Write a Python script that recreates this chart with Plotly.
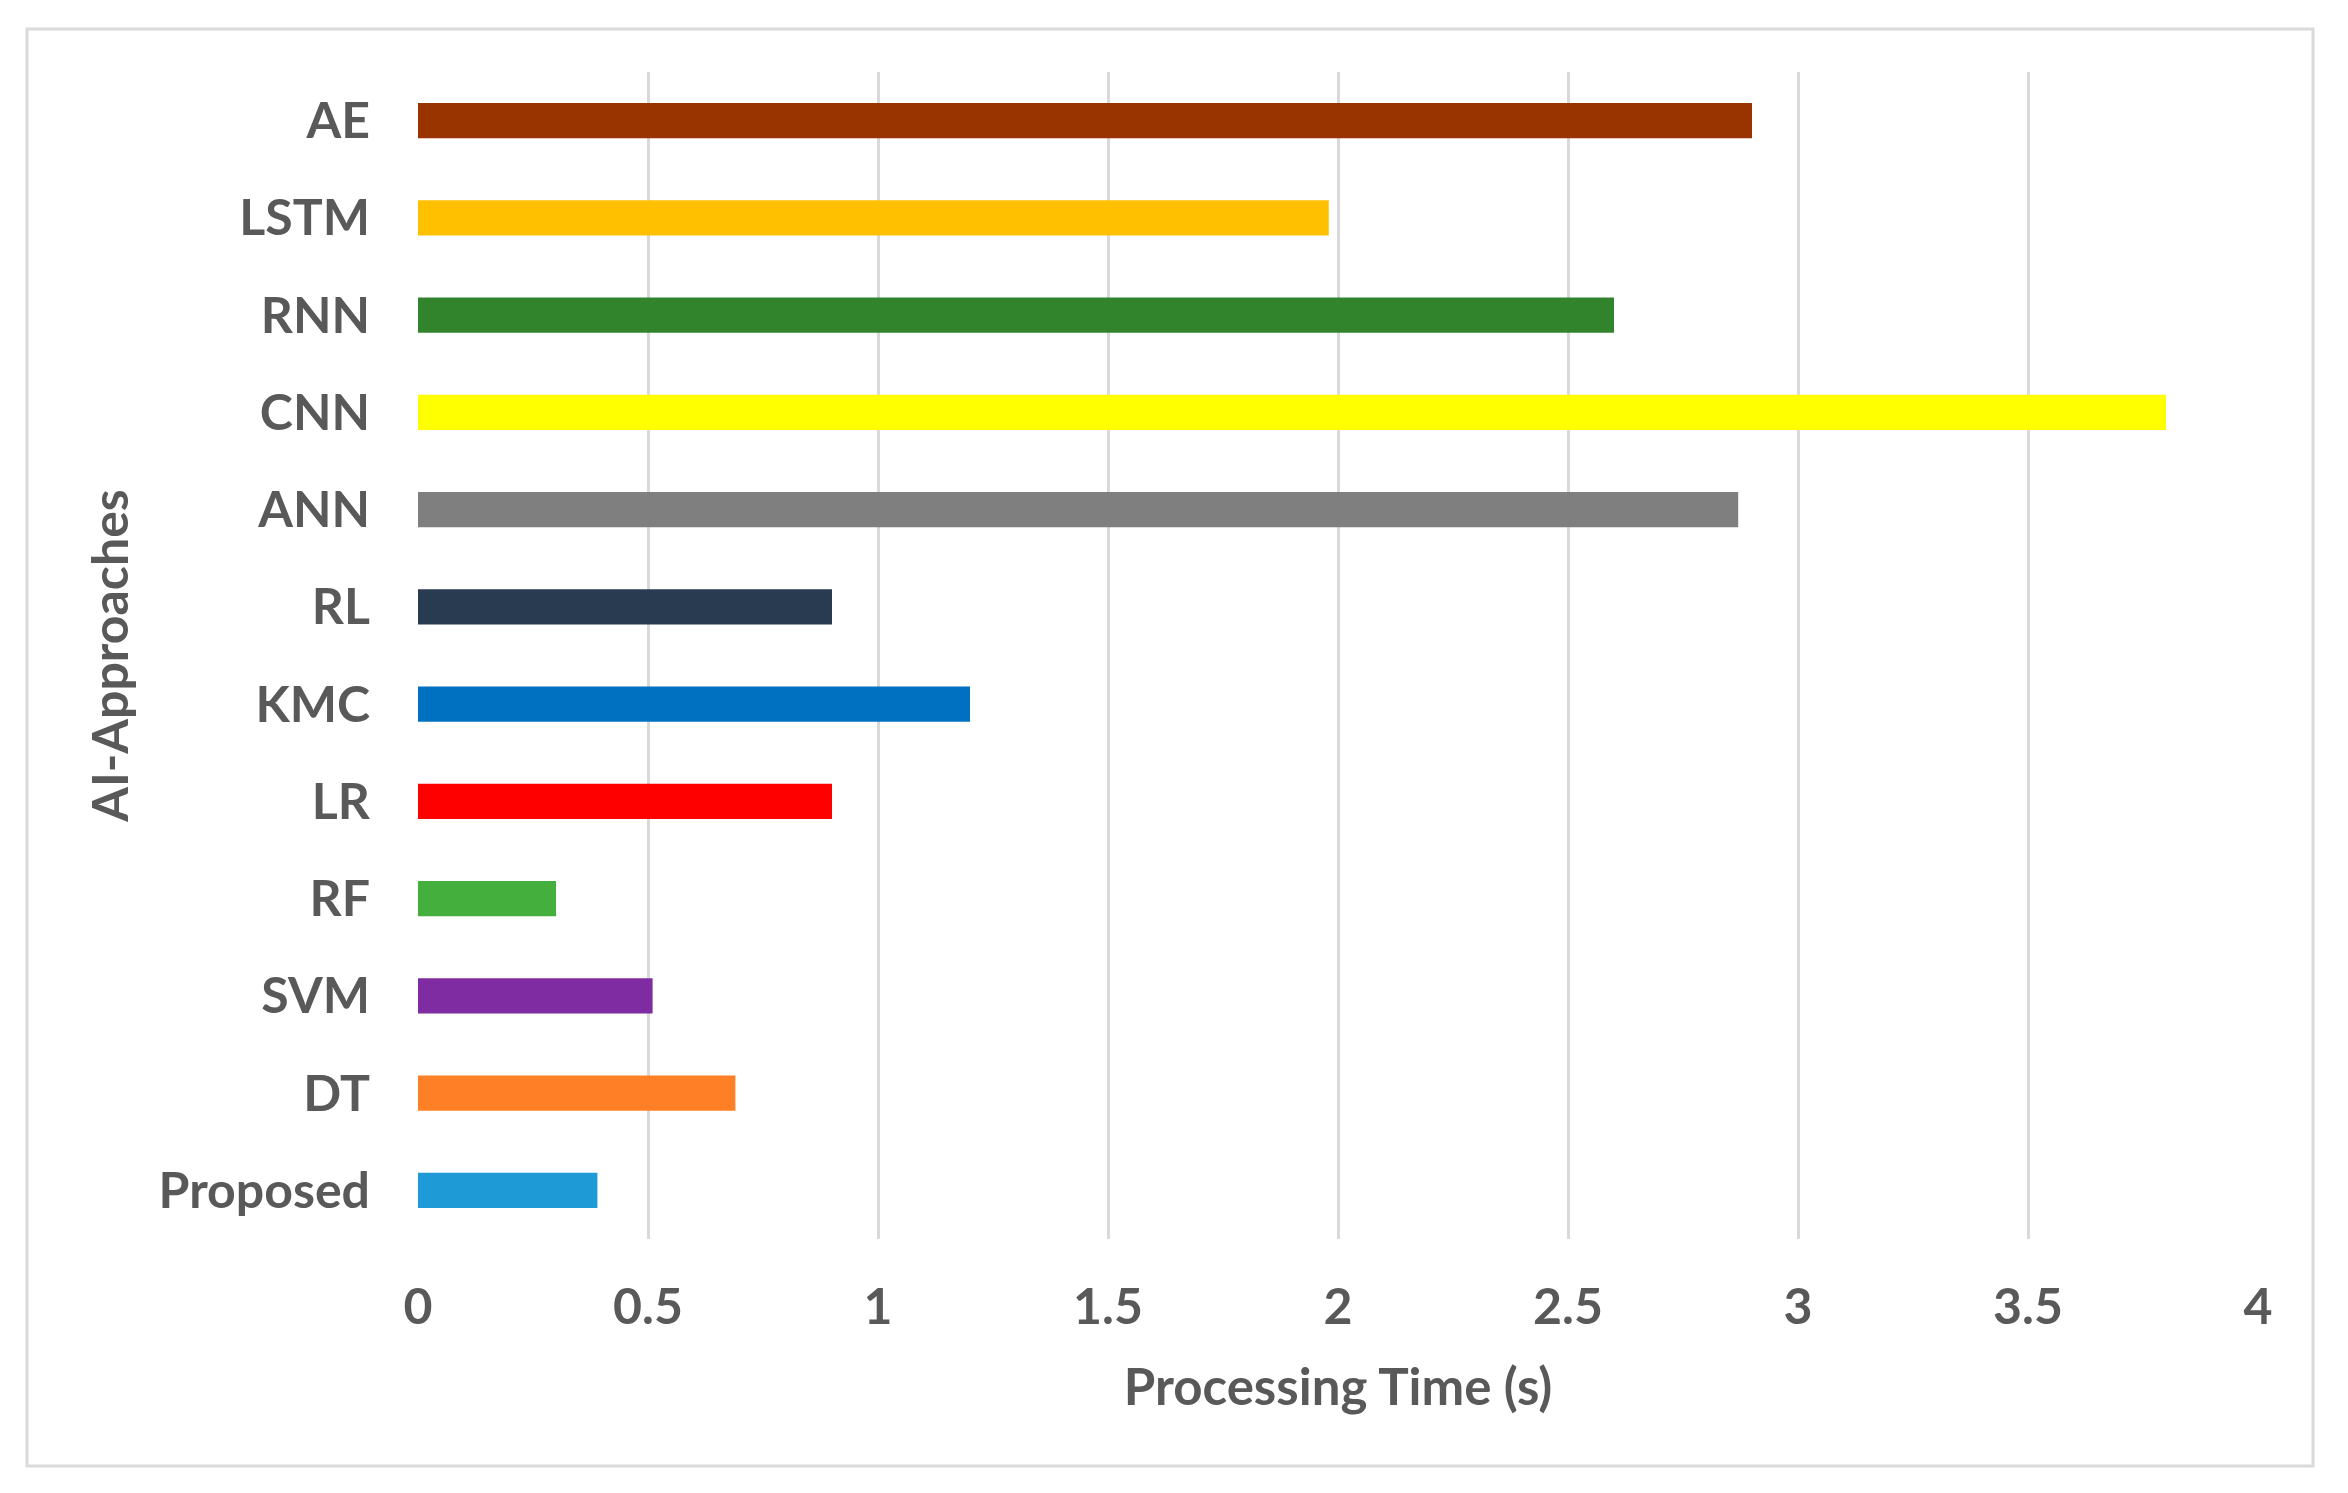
import plotly.graph_objects as go

categories = ["AE", "LSTM", "RNN", "CNN", "ANN", "RL", "KMC", "LR", "RF", "SVM", "DT", "Proposed"]
processing_time = [2.90, 1.98, 2.60, 3.80, 2.87, 0.90, 1.20, 0.90, 0.30, 0.51, 0.69, 0.39]
bar_colors = ["#993300", "#FFC000", "#31842C", "#FFFF00", "#7F7F7F", "#283B50",
              "#0070C0", "#FF0000", "#44AF3C", "#7F2BA1", "#FF7F27", "#1E9BD7"]
x_ticks = [0, 0.5, 1, 1.5, 2, 2.5, 3, 3.5, 4]
x_tick_labels = ["0", "0.5", "1", "1.5", "2", "2.5", "3", "3.5", "4"]

# The page body has an 8px default margin, so the figure is offset by 8px.
OFF = 8
W, H = 2348 - 2 * OFF, 1493 - 2 * OFF
L, R, T, B = 418 - OFF, 2258 - OFF, 72 - OFF, 1239 - OFF
pw, ph = R - L, B - T

FONT = "Lato"
TXT = "#595959"

fig = go.Figure(go.Bar(
    x=processing_time, y=categories, orientation="h",
    marker=dict(color=bar_colors, line=dict(width=0)),
    width=0.36,
))

def px_to_paper_x(px):
    return (px - OFF - L) / pw

def px_to_paper_y(py):
    return (B - (py - OFF)) / ph

fig.add_shape(type="rect", xref="paper", yref="paper",
              x0=px_to_paper_x(27), x1=px_to_paper_x(2313),
              y0=px_to_paper_y(1466), y1=px_to_paper_y(29),
              line=dict(color="#DADADA", width=3), fillcolor="rgba(0,0,0,0)", layer="below")

fig.update_layout(
    width=W, height=H,
    margin=dict(l=L, r=W - R, t=T, b=H - B, pad=0),
    paper_bgcolor="white", plot_bgcolor="white",
    showlegend=False,
    font=dict(family=FONT, color=TXT, size=50),
    xaxis=dict(
        range=[0, 4], tickvals=x_ticks, ticktext=x_tick_labels,
        showgrid=True, gridcolor="#D9D9D9", gridwidth=3,
        zeroline=False, showline=False,
        tickfont=dict(family=FONT, size=50, color=TXT, weight="bold"),
        ticklabelstandoff=34,
        title=dict(text="Processing Time (s)", font=dict(family=FONT, size=51, color=TXT, weight="bold"), standoff=35),
        fixedrange=True,
    ),
    yaxis=dict(
        autorange="reversed",
        showgrid=False, zeroline=False, showline=False,
        tickfont=dict(family=FONT, size=50, color=TXT, weight="bold"),
        ticklabelstandoff=47,
        title=dict(text="AI-Approaches", font=dict(family=FONT, size=50, color=TXT, weight="bold"), standoff=14),
        fixedrange=True,
    ),
)

fig.write_html("out.html")
